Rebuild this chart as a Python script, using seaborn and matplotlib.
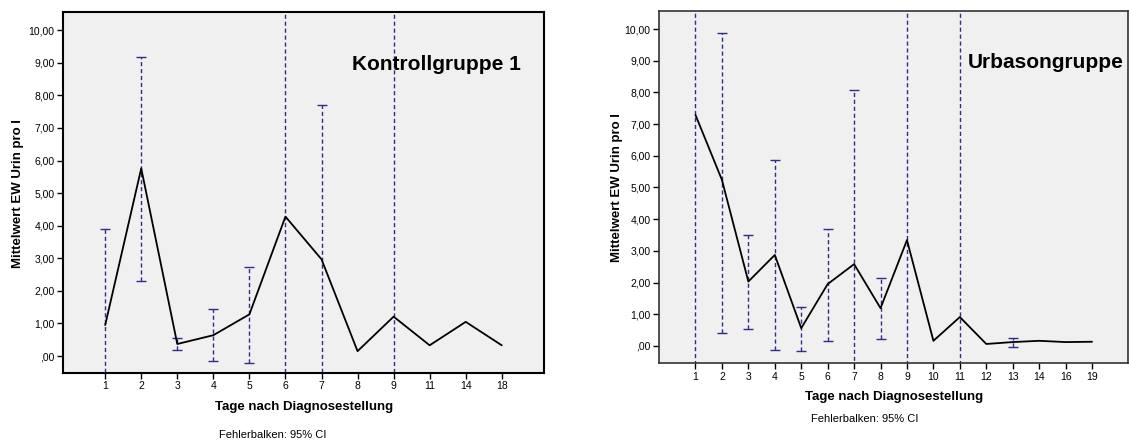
import numpy as np
import pandas as pd
import matplotlib
matplotlib.use("Agg")
import matplotlib.pyplot as plt
import seaborn as sns

# ---- data ----
days_k = ["1", "2", "3", "4", "5", "6", "7", "8", "9", "11", "14", "18"]
mean_k = [0.95, 5.76, 0.37, 0.64, 1.28, 4.28, 2.97, 0.15, 1.21, 0.33, 1.05, 0.33]
upper_k = [3.91, 9.17, 0.56, 1.45, 2.74, 14.0, 7.71, np.nan, 14.0, np.nan, np.nan, np.nan]
lower_k = [-2.0, 2.30, 0.18, -0.15, -0.21, -3.0, -2.0, np.nan, -3.0, np.nan, np.nan, np.nan]

days_u = ["1", "2", "3", "4", "5", "6", "7", "8", "9", "10", "11", "12", "13", "14", "16", "19"]
mean_u = [7.29, 5.24, 2.03, 2.87, 0.56, 1.95, 2.58, 1.19, 3.34, 0.16, 0.91, 0.06, 0.12, 0.16, 0.12, 0.13]
upper_u = [14.0, 9.88, 3.50, 5.88, 1.24, 3.70, 8.09, 2.14, 13.0, np.nan, 14.0, np.nan, 0.24, np.nan, np.nan, np.nan]
lower_u = [-3.0, 0.40, 0.53, -0.13, -0.16, 0.15, -2.0, 0.21, -3.0, np.nan, -3.0, np.nan, -0.02, np.nan, np.nan, np.nan]

ytick_vals = [0, 1, 2, 3, 4, 5, 6, 7, 8, 9, 10]
ytick_labels = [",00", "1,00", "2,00", "3,00", "4,00", "5,00", "6,00", "7,00", "8,00", "9,00", "10,00"]

titles = ["Kontrollgruppe 1", "Urbasongruppe"]
ylabel = "Mittelwert EW Urin pro l"
xlabel = "Tage nach Diagnosestellung"
note = "Fehlerbalken: 95% CI"

sns.set_style("white")
plt.rcParams["font.family"] = ["Liberation Sans", "DejaVu Sans"]
plt.rcParams["text.color"] = "black"
plt.rcParams["xtick.color"] = "black"
plt.rcParams["ytick.color"] = "black"

fig = plt.figure(figsize=(11.29, 4.41), dpi=100)
ax1 = fig.add_axes([0.0558, 0.1542, 0.4260, 0.8186])
ax2 = fig.add_axes([0.5837, 0.1762, 0.4154, 0.7995])

ERR = "#2e2e86"

def draw(ax, days, mean, upper, lower, title, pad_l, pad_r, ylim, spine_col, spine_lw, title_xy):
    df = pd.DataFrame({"pos": np.arange(len(days)), "mean": mean,
                       "upper": upper, "lower": lower})
    ax.set_facecolor("#f0f0f0")
    sel = df.dropna()
    eb = ax.errorbar(sel["pos"], sel["mean"],
                     yerr=[sel["mean"] - sel["lower"], sel["upper"] - sel["mean"]],
                     fmt="none", ecolor=ERR, elinewidth=1.0, capsize=3.3, capthick=1.0, zorder=2)
    for lc in eb[2]:
        lc.set_linestyle((0, (3, 2)))
    sns.lineplot(data=df, x="pos", y="mean", ax=ax, color="black", linewidth=1.3,
                 estimator=None, errorbar=None, zorder=3)
    ax.set_xlim(-pad_l, len(days) - 1 + pad_r)
    ax.set_ylim(*ylim)
    ax.set_xticks(df["pos"])
    ax.set_xticklabels(days, fontsize=7.5)
    ax.set_yticks(ytick_vals)
    ax.set_yticklabels(ytick_labels, fontsize=7.5)
    ax.tick_params(axis="both", which="both", direction="out", length=4, width=1, color="black",
                   bottom=True, left=True, pad=2)
    for s in ax.spines.values():
        s.set_color(spine_col)
        s.set_linewidth(spine_lw)
        s.set_visible(True)
    ax.set_xlabel("")
    ax.set_ylabel("")
    ax.text(title_xy[0], title_xy[1], title, transform=fig.transFigure, fontsize=15,
            fontweight="bold", ha="left", va="center", color="black")
    return ax

draw(ax1, days_k, mean_k, upper_k, lower_k, titles[0], 1.17, 1.17, (-0.52, 10.56),
     "black", 1.5, (352 / 1129, 1 - 65 / 441))
draw(ax2, days_u, mean_u, upper_u, lower_u, titles[1], 1.38, 1.36, (-0.55, 10.58),
     "#333333", 1.2, (968 / 1129, 1 - 62 / 441))

# axis labels and notes
fig.text(18 / 1129, 1 - 193 / 441, ylabel, rotation=90, fontsize=9.5, fontweight="bold",
         ha="center", va="center")
fig.text(617 / 1129, 1 - 187 / 441, ylabel, rotation=90, fontsize=9.5, fontweight="bold",
         ha="center", va="center")
fig.text(304 / 1129, 1 - 407 / 441, xlabel, fontsize=9.5, fontweight="bold", ha="center", va="center")
fig.text(894 / 1129, 1 - 397 / 441, xlabel, fontsize=9.5, fontweight="bold", ha="center", va="center")
fig.text(273 / 1129, 1 - 435 / 441, note, fontsize=8, ha="center", va="center")
fig.text(865 / 1129, 1 - 419 / 441, note, fontsize=8, ha="center", va="center")

fig.savefig("out.png", dpi=100, facecolor="white")
